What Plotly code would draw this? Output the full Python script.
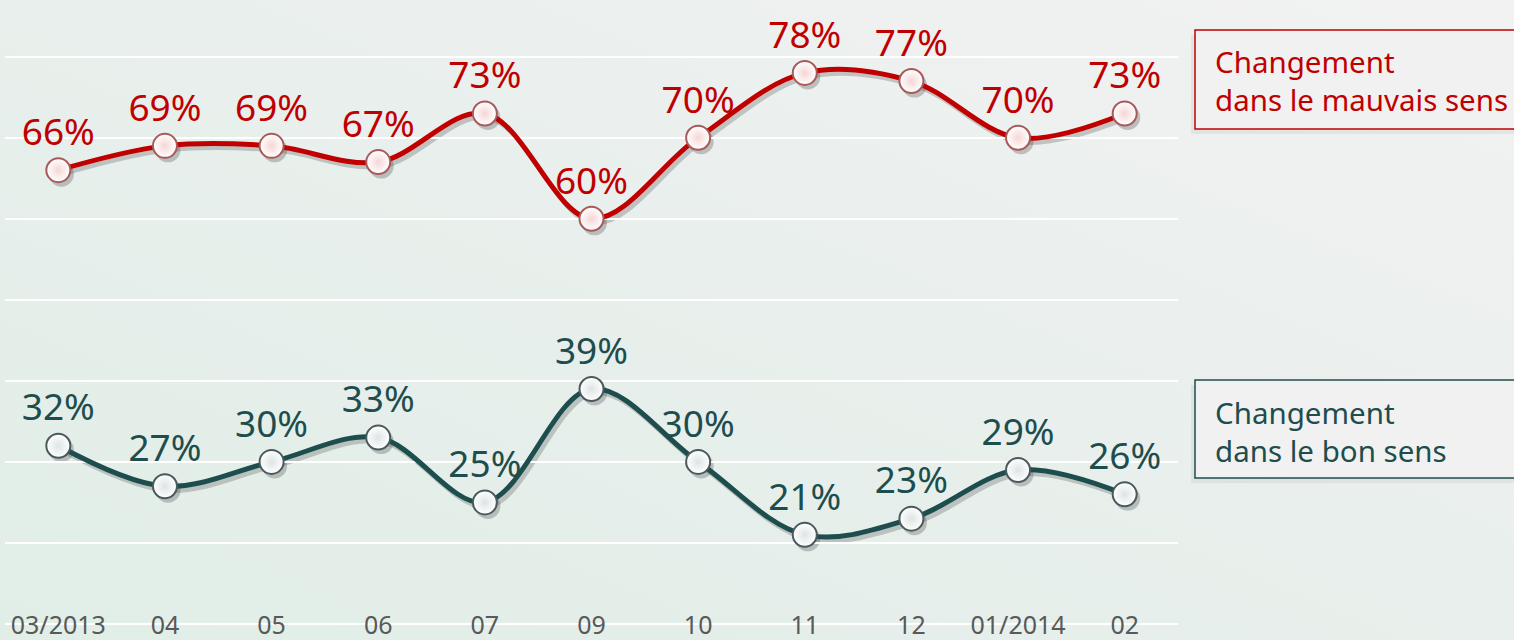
import base64
import plotly.graph_objects as go

months = ["03/2013", "04", "05", "06", "07", "09", "10", "11", "12", "01/2014", "02"]
mauvais_sens = [66, 69, 69, 67, 73, 60, 70, 78, 77, 70, 73]
bon_sens = [32, 27, 30, 33, 25, 39, 30, 21, 23, 29, 26]
legend_mauvais = "Changement<br>dans le mauvais sens"
legend_bon = "Changement<br>dans le bon sens"

RED = "#c00000"
TEAL = "#1e4d4e"
FONT = "Noto Sans"

W, H = 1514, 640
L, R, T, B = 5, 333, 0, 10
PW, PH = W - L - R, H - T - B
dx, dy = 3, 4
YR = [9.75, 87]

svg = f"""<svg xmlns='http://www.w3.org/2000/svg' width='{W}' height='{H}'>
<defs><linearGradient id='g' x1='0' y1='1' x2='1' y2='0'>
<stop offset='0' stop-color='#e1eee7'/><stop offset='0.5' stop-color='#e8efec'/>
<stop offset='1' stop-color='#f2f2f2'/></linearGradient></defs>
<rect width='{W}' height='{H}' fill='url(#g)'/></svg>"""
bg_uri = "data:image/svg+xml;base64," + base64.b64encode(svg.encode()).decode()

fig = go.Figure()

# shadows (first subplot, offset down-right, drawn underneath)
for vals in (mauvais_sens, bon_sens):
    fig.add_trace(go.Scatter(
        x=months, y=vals, xaxis="x", yaxis="y", mode="lines+markers",
        line=dict(color="rgba(60,60,60,0.25)", width=5, shape="spline"),
        marker=dict(size=25, color="rgba(60,60,60,0.28)", line=dict(width=0)),
        hoverinfo="skip", showlegend=False))

fig.add_trace(go.Scatter(
    x=months, y=mauvais_sens, xaxis="x2", yaxis="y2", mode="lines+markers+text",
    text=[f"{v}%" for v in mauvais_sens], textposition="top center",
    textfont=dict(family=FONT, size=37, color=RED),
    line=dict(color=RED, width=5, shape="spline"),
    marker=dict(size=24, color="white", gradient=dict(type="radial", color="#f6d6d6"),
                line=dict(color="#a85a5a", width=2)),
    cliponaxis=False, showlegend=False))

fig.add_trace(go.Scatter(
    x=months, y=bon_sens, xaxis="x2", yaxis="y2", mode="lines+markers+text",
    text=[f"{v}%" for v in bon_sens], textposition="top center",
    textfont=dict(family=FONT, size=37, color=TEAL),
    line=dict(color=TEAL, width=5, shape="spline"),
    marker=dict(size=24, color="white", gradient=dict(type="radial", color="#dde4e5"),
                line=dict(color="#4a5a5c", width=2)),
    cliponaxis=False, showlegend=False))

def px2x(p):
    return (p - L) / PW

def px2y(p):
    return (H - B - p) / PH

shapes = []
annotations = []
for (y0p, y1p, col, txt, ycen) in [(30, 129, RED, legend_mauvais, 81),
                                    (380, 478, TEAL, legend_bon, 431)]:
    shapes.append(dict(type="rect", xref="paper", yref="paper",
                       x0=px2x(1191), x1=px2x(1530), y0=px2y(y1p + 5), y1=px2y(y0p + 5),
                       fillcolor="rgba(120,120,120,0.10)", line=dict(width=0), layer="below"))
    shapes.append(dict(type="rect", xref="paper", yref="paper",
                       x0=px2x(1195), x1=px2x(1530), y0=px2y(y1p), y1=px2y(y0p),
                       fillcolor="#f1f1f1", line=dict(color=col, width=1.5)))
    annotations.append(dict(xref="paper", yref="paper", x=px2x(1213), y=px2y(ycen),
                            xanchor="left", yanchor="middle", align="left", showarrow=False,
                            text=txt, font=dict(family=FONT, size=29.5, color=col)))

fig.update_layout(
    width=W, height=H,
    margin=dict(l=L, r=R, t=T, b=B, autoexpand=False),
    paper_bgcolor="#eaf0ed", plot_bgcolor="rgba(0,0,0,0)",
    images=[dict(source=bg_uri, xref="paper", yref="paper",
                 x=-L / PW, y=1 + T / PH, sizex=W / PW, sizey=H / PH,
                 xanchor="left", yanchor="top", sizing="stretch", layer="below")],
    # shadow axes (hidden, offset)
    xaxis=dict(domain=[dx / PW, 1], range=[-0.5, 10.5], visible=False, anchor="y",
               automargin=False),
    yaxis=dict(domain=[0, (PH - dy) / PH], range=YR, visible=False, anchor="x",
               automargin=False),
    # main axes
    xaxis2=dict(domain=[0, (PW - dx) / PW], range=[-0.5, 10.5], showgrid=False,
                zeroline=False, showline=False, ticks="", anchor="y2", automargin=False,
                tickfont=dict(family=FONT, size=25, color="#595959"),
                ticklabelstandoff=-18),
    yaxis2=dict(domain=[dy / PH, 1], range=YR, dtick=10, tick0=0, anchor="x2",
                showgrid=True, gridcolor="white", gridwidth=1.5, automargin=False,
                showticklabels=False, zeroline=False, showline=False),
    shapes=shapes, annotations=annotations,
    font=dict(family=FONT),
)

fig.write_html("out.html", config={"displayModeBar": False},
               post_script="document.body.style.margin='0';document.body.style.overflow='hidden';")
